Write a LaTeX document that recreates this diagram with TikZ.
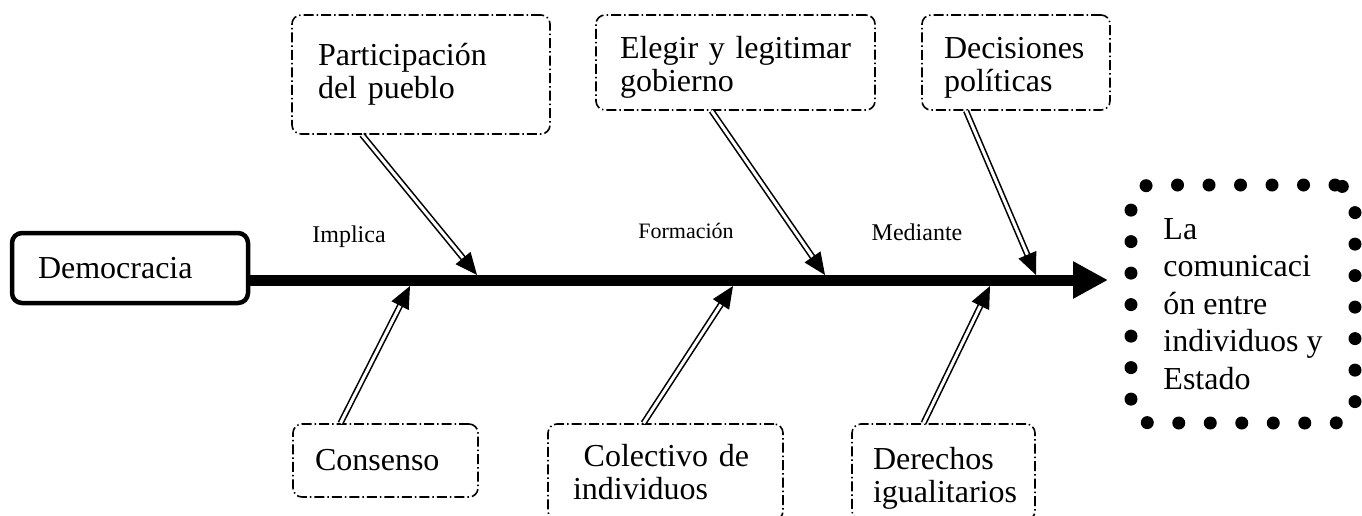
\documentclass[tikz,border=0pt]{standalone}
\usepackage{fontspec}
\setmainfont{Liberation Serif}
\usetikzlibrary{arrows.meta}
\begin{document}
\begin{tikzpicture}[x=1pt,y=-1pt,
    box/.style={draw,line width=1.6pt,rounded corners=9pt,dash pattern=on 10pt off 3pt on 1.5pt off 3pt,
      align=left,inner sep=0pt,font=\fontsize{32}{33}\selectfont},
    cause/.style={double,double distance=3pt,line width=1.6pt,-{Triangle[length=22pt,width=19pt]}},
    lbl/.style={anchor=base,font=\fontsize{24}{26}\selectfont}]
    \useasboundingbox (0,0) rectangle (1362,515);
    \node[draw,line width=4.5pt,rounded corners=10pt,minimum width=236pt,minimum height=70pt,text width=184pt,
      align=left,inner sep=0pt,font=\fontsize{32}{34}\selectfont] (demo) at (130,268) {Democracia};
    \node[draw,line width=13pt,dash pattern=on 0pt off 31.5pt,line cap=round,rounded corners=20pt,
      minimum width=224pt,minimum height=238pt,align=left,font=\fontsize{32}{37.5}\selectfont] (goal) at (1243,304)
      {La\\comunicaci\\ón entre\\individuos y\\Estado};
    \coordinate (tip) at (1108,280);
    \draw[line width=11pt,-{Triangle[length=35pt,width=35pt]}] (demo.east |- tip) -- (tip);
    \node[box,minimum width=258pt,minimum height=119pt,text width=206pt] (part) at (421,74.5) {Participación\\del pueblo};
    \node[box,minimum width=279pt,minimum height=95pt,text width=231pt] (elegir) at (735.5,62.5) {\rule{0pt}{32pt}\mbox{Elegir y legitimar}\\gobierno};
    \node[box,minimum width=188pt,minimum height=95pt,text width=144pt] (decis) at (1016,62.5) {\rule{0pt}{32pt}Decisiones\\políticas};
    \node[box,minimum width=185pt,minimum height=73pt,text width=141pt] (cons) at (385.5,460.5) {Consenso};
    \node[box,minimum width=235pt,minimum height=96pt,text width=185pt] (colec) at (665.5,472) {~Colectivo de\\individuos};
    \node[box,minimum width=183pt,minimum height=96pt,text width=141pt] (derech) at (943.5,472) {\rule{0pt}{34pt}Derechos\\igualitarios};
    \coordinate (a1) at (477,275);
    \coordinate (a2) at (825,275);
    \coordinate (a3) at (1036,275);
    \coordinate (b1) at (410,286);
    \coordinate (b2) at (733,286);
    \coordinate (b3) at (990,286);
    \draw[cause] ([xshift=-59pt]part.south) -- (a1);
    \draw[cause] ([xshift=-24pt]elegir.south) -- (a2);
    \draw[cause] ([xshift=-50pt]decis.south) -- (a3);
    \draw[cause] ([xshift=-45pt]cons.north) -- (b1);
    \draw[cause] ([xshift=-22pt]colec.north) -- (b2);
    \draw[cause] ([xshift=-20pt]derech.north) -- (b3);
    \node[lbl] (impl) at (349,242) {Implica};
    \node[lbl,font=\fontsize{22}{24}\selectfont] (form) at (686,238) {Formación};
    \node[lbl] (med) at (917,240) {Mediante};
\end{tikzpicture}
\end{document}
